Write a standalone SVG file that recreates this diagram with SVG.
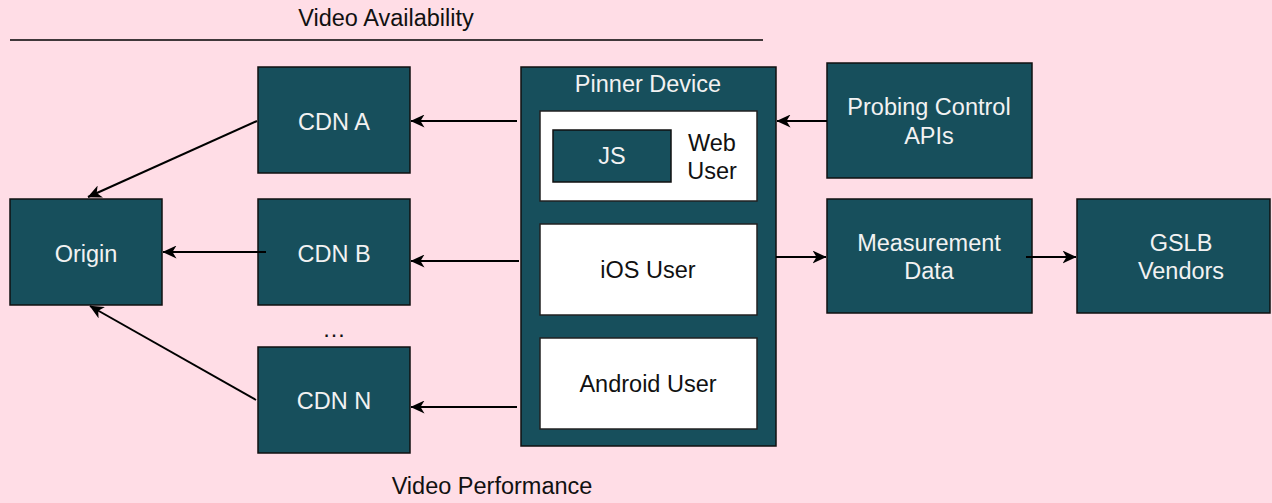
<svg xmlns="http://www.w3.org/2000/svg" width="1272" height="503" viewBox="0 0 1272 503">
<defs>
<style>
.n{fill:#174F5C;stroke:#111;stroke-width:1.5}
.w{fill:#FFFFFF;stroke:#222;stroke-width:1.5}
.t{font-family:"Liberation Sans",Arial,sans-serif;font-size:23.5px;text-anchor:middle}
.lt{fill:#F2F2F2}
.dk{fill:#111}
.c{stroke:#000;stroke-width:2;fill:none;marker-end:url(#ah)}
</style>
<marker id="ah" markerUnits="userSpaceOnUse" markerWidth="14" markerHeight="13" refX="13.5" refY="6.5" orient="auto" viewBox="0 0 14 13">
<path d="M0,0 L14,6.5 L0,13 L4,6.5 z" fill="#000"/>
</marker>
</defs>
<rect x="0" y="0" width="1272" height="503" fill="#FFDDE6"/>
<g id="labels">
<text class="t dk" x="386" y="26">Video Availability</text>
<line x1="10" y1="40" x2="763" y2="40" stroke="#000" stroke-width="1.5"/>
<text class="t dk" x="492" y="494">Video Performance</text>
<text class="t dk" x="334" y="337">…</text>
</g>
<g id="origin"><rect class="n" x="10" y="199" width="152" height="106"/><text class="t lt" x="86" y="262">Origin</text></g>
<g id="cdn-a"><rect class="n" x="258" y="67" width="152" height="106"/><text class="t lt" x="334" y="130">CDN A</text></g>
<g id="cdn-b"><rect class="n" x="258" y="199" width="152" height="106"/><text class="t lt" x="334" y="262">CDN B</text></g>
<g id="cdn-n"><rect class="n" x="258" y="347" width="152" height="106"/><text class="t lt" x="334" y="409">CDN N</text></g>
<g id="pinner-device">
<rect class="n" x="521" y="67" width="255" height="379"/>
<text class="t lt" x="648" y="92">Pinner Device</text>
<g id="web-user"><rect class="w" x="540" y="111" width="217" height="90"/><text class="t dk" x="712" y="151">Web</text><text class="t dk" x="712" y="179">User</text></g>
<g id="js"><rect class="n" x="553" y="130" width="118" height="52"/><text class="t lt" x="612" y="164">JS</text></g>
<g id="ios-user"><rect class="w" x="540" y="224" width="217" height="91"/><text class="t dk" x="648" y="278">iOS User</text></g>
<g id="android-user"><rect class="w" x="540" y="338" width="217" height="91"/><text class="t dk" x="648" y="392">Android User</text></g>
</g>
<g id="probing"><rect class="n" x="827" y="63" width="205" height="115"/><text class="t lt" x="929" y="115">Probing Control</text><text class="t lt" x="929" y="144">APIs</text></g>
<g id="measurement"><rect class="n" x="827" y="199" width="205" height="114"/><text class="t lt" x="929" y="251">Measurement</text><text class="t lt" x="929" y="279">Data</text></g>
<g id="gslb"><rect class="n" x="1077" y="199" width="193" height="114"/><text class="t lt" x="1181" y="251">GSLB</text><text class="t lt" x="1181" y="279">Vendors</text></g>
<g id="connectors">
<line class="c" x1="257" y1="121" x2="88" y2="197"/>
<line class="c" x1="266" y1="252" x2="163" y2="252"/>
<line class="c" x1="256" y1="400" x2="90" y2="306"/>
<line class="c" x1="517" y1="121" x2="411" y2="121"/>
<line class="c" x1="519" y1="261" x2="411" y2="261"/>
<line class="c" x1="517" y1="407" x2="411" y2="407"/>
<line class="c" x1="827" y1="121" x2="777" y2="121"/>
<line class="c" x1="776" y1="257" x2="826" y2="257"/>
<line class="c" x1="1026" y1="257" x2="1076" y2="257"/>
</g>
</svg>
